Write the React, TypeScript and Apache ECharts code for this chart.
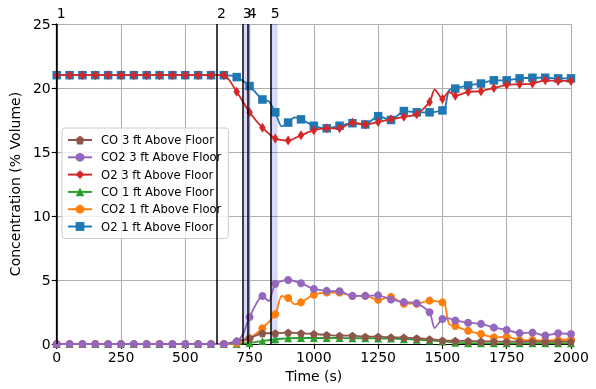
import { useEffect, useRef } from 'react';
import * as echarts from 'echarts';

const times = [0, 50, 100, 150, 200, 250, 300, 350, 400, 450, 500, 550, 600, 650, 700, 750, 800, 850, 900, 950, 1000, 1050, 1100, 1150, 1200, 1250, 1300, 1350, 1400, 1450, 1500, 1550, 1600, 1650, 1700, 1750, 1800, 1850, 1900, 1950, 2000];

const co3ft = [0, 0, 0, 0, 0, 0, 0, 0, 0, 0, 0, 0, 0, 0, 0.23, 0.44, 0.84, 0.84, 0.89, 0.84, 0.78, 0.7, 0.65, 0.65, 0.57, 0.57, 0.52, 0.5, 0.45, 0.38, 0.28, 0.25, 0.23, 0.2, 0.2, 0.18, 0.18, 0.18, 0.18, 0.18, 0.18];
const co23ft = [0, 0, 0, 0, 0, 0, 0, 0, 0, 0, 0, 0, 0, 0, 0.2, 2.1, 3.75, 4.7, 5.0, 4.75, 4.3, 4.15, 4.12, 3.76, 3.76, 3.8, 3.48, 3.27, 3.18, 2.48, 1.95, 1.84, 1.66, 1.57, 1.28, 1.1, 0.85, 0.89, 0.66, 0.84, 0.78];
const o23ft = [21, 21, 21, 21, 21, 21, 21, 21, 21, 21, 21, 21, 21, 21, 19.7, 18.1, 16.9, 16.05, 15.9, 16.3, 16.7, 16.85, 16.85, 17.3, 17.15, 17.35, 17.55, 17.75, 17.95, 18.9, 19.15, 19.4, 19.7, 19.75, 20.0, 20.25, 20.3, 20.35, 20.6, 20.55, 20.55];
const co1ft = [0, 0, 0, 0, 0, 0, 0, 0, 0, 0, 0, 0, 0, 0, 0, 0.08, 0.23, 0.37, 0.45, 0.47, 0.47, 0.47, 0.47, 0.45, 0.45, 0.43, 0.42, 0.38, 0.33, 0.28, 0.2, 0.1, 0.06, 0.05, 0.05, 0.05, 0.05, 0.05, 0.05, 0.05, 0.05];
const co21ft = [0, 0, 0, 0, 0, 0, 0, 0, 0, 0, 0, 0, 0, 0, 0.05, 0.45, 1.23, 2.32, 3.6, 3.25, 3.85, 4.02, 4.02, 3.75, 3.76, 3.45, 3.68, 3.15, 3.15, 3.39, 3.25, 1.4, 1.03, 0.78, 0.52, 0.57, 0.31, 0.31, 0.26, 0.31, 0.36];
const o21ft = [21, 21, 21, 21, 21, 21, 21, 21, 21, 21, 21, 21, 21, 21, 20.85, 20.15, 19.1, 18.1, 17.3, 17.55, 17.05, 16.85, 17.05, 17.25, 17.15, 17.8, 17.5, 18.2, 18.1, 18.1, 18.25, 19.95, 20.2, 20.35, 20.6, 20.6, 20.75, 20.8, 20.8, 20.75, 20.75];

// in-between readings (drawn as line only, no marker)
const co3ftExtra: number[][] = [];
const co23ftExtra = [[725, 0.8], [825, 3.35], [1470, 1.25], [1525, 2.0]];
const o23ftExtra = [[1470, 19.9], [1525, 19.7]];
const co1ftExtra: number[][] = [];
const co21ftExtra = [[875, 3.75], [925, 3.1], [1510, 3.1], [1525, 1.6]];
const o21ftExtra = [[825, 18.95], [875, 17.0], [925, 17.7], [1510, 18.4], [1525, 19.8]];

const eventTimes = [0, 623, 723, 743, 832];
const eventLabels = ['1', '2', '3', '4', '5'];
const bands = [[728, 754], [832, 859]];

const names = [
  'CO 3 ft Above Floor',
  'CO2 3 ft Above Floor',
  'O2 3 ft Above Floor',
  'CO 1 ft Above Floor',
  'CO2 1 ft Above Floor',
  'O2 1 ft Above Floor',
];

const FONT = 'DejaVu Sans';

function build(vals: number[], extras: number[][]) {
  const pts: any[] = times.map((t, i) => ({ value: [t, vals[i]] }));
  extras.forEach(([t, v]) => pts.push({ value: [t, v], symbol: 'none' }));
  pts.sort((a, b) => a.value[0] - b.value[0]);
  return pts;
}

const PENTAGON = 'path://M0,-10L9.51,-3.09L5.88,8.09L-5.88,8.09L-9.51,-3.09Z';
const THIN_DIAMOND = 'path://M0,-10L6,0L0,10L-6,0Z';

export default function App() {
  const ref = useRef<HTMLDivElement>(null);
  useEffect(() => {
    if (!ref.current) return;
    const chart = echarts.init(ref.current, null, { renderer: 'svg' });
    const mk = (name: string, color: string, vals: number[], extras: number[][], symbol: string, size: any, z: number) => ({
      name,
      type: 'line',
      data: build(vals, extras),
      smooth: 0.25,
      symbol,
      symbolSize: size,
      showAllSymbol: true,
      lineStyle: { color, width: 1.8 },
      itemStyle: { color },
      z,
    });
    const series: any[] = [
      mk(names[3], '#2ca02c', co1ft, co1ftExtra, 'triangle', 8, 3),
      mk(names[4], '#ff7f0e', co21ft, co21ftExtra, 'circle', 8, 3),
      mk(names[5], '#1f77b4', o21ft, o21ftExtra, 'rect', 8.5, 3),
      mk(names[0], '#8c564b', co3ft, co3ftExtra, PENTAGON, 8, 4),
      mk(names[1], '#9467bd', co23ft, co23ftExtra, 'circle', 8, 4),
      mk(names[2], '#d62728', o23ft, o23ftExtra, THIN_DIAMOND, [6.5, 10], 4),
    ];
    series[0].markLine = {
      silent: true,
      symbol: ['none', 'none'],
      lineStyle: { color: '#000', width: 1.5, type: 'solid' },
      label: {
        show: true,
        position: 'end',
        formatter: '{b}',
        color: '#000',
        fontSize: 14,
        fontFamily: FONT,
        align: 'left',
        distance: 4,
      },
      data: eventTimes.map((t, i) => ({ xAxis: t, name: eventLabels[i] })),
      z: 5,
    };
    series[0].markArea = {
      silent: true,
      itemStyle: { color: 'rgba(0,0,235,0.15)' },
      data: bands.map(([a, b]) => [{ xAxis: a }, { xAxis: b }]),
    };
    chart.setOption({
      animation: false,
      textStyle: { fontFamily: FONT },
      grid: { left: 54, right: 25, top: 24, bottom: 45, containLabel: false },
      legend: {
        data: names,
        orient: 'vertical',
        left: 62,
        top: 128,
        itemWidth: 24,
        itemHeight: 11,
        itemGap: 3.3,
        padding: [5, 7, 5, 5],
        backgroundColor: 'rgba(255,255,255,0.8)',
        borderColor: '#cccccc',
        borderWidth: 1,
        borderRadius: 3,
        textStyle: { fontSize: 11.6, fontFamily: FONT, color: '#000', lineHeight: 14, padding: [0, 0, 0, 4] },
      },
      xAxis: [
        {
          type: 'value',
          min: 0,
          max: 2000,
          interval: 250,
          name: 'Time (s)',
          nameLocation: 'middle',
          nameGap: 21,
          nameTextStyle: { fontSize: 14, color: '#000', fontFamily: FONT },
          axisLine: { lineStyle: { color: '#000', width: 1.1 } },
          axisTick: { show: true, inside: false, length: 5, lineStyle: { color: '#000', width: 1.1 } },
          axisLabel: { fontSize: 14, color: '#000', margin: 6, fontFamily: FONT, formatter: (v: number) => String(v) },
          splitLine: { show: true, lineStyle: { color: '#b0b0b0', width: 1.1 } },
        },
        {
          type: 'value',
          position: 'top',
          min: 0,
          max: 2000,
          axisLine: { show: true, lineStyle: { color: '#000', width: 1.1 } },
          axisTick: { show: false },
          axisLabel: { show: false },
          splitLine: { show: false },
        },
      ],
      yAxis: [
        {
          type: 'value',
          min: 0,
          max: 25,
          interval: 5,
          name: 'Concentration (% Volume)',
          nameLocation: 'middle',
          nameGap: 29,
          nameTextStyle: { fontSize: 14, color: '#000', fontFamily: FONT },
          axisLine: { show: true, lineStyle: { color: '#000', width: 1.1 } },
          axisTick: { show: true, inside: false, length: 5, lineStyle: { color: '#000', width: 1.1 } },
          axisLabel: { fontSize: 14, color: '#000', margin: 6, fontFamily: FONT, formatter: (v: number) => String(v) },
          splitLine: { show: true, lineStyle: { color: '#b0b0b0', width: 1.1 } },
        },
        {
          type: 'value',
          position: 'right',
          min: 0,
          max: 25,
          axisLine: { show: true, lineStyle: { color: '#000', width: 1.1 } },
          axisTick: { show: false },
          axisLabel: { show: false },
          splitLine: { show: false },
        },
      ],
      series,
    });
    return () => chart.dispose();
  }, []);
  return <div ref={ref} style={{ position: 'fixed', left: 0, top: 0, width: 596, height: 389 }} />;
}
